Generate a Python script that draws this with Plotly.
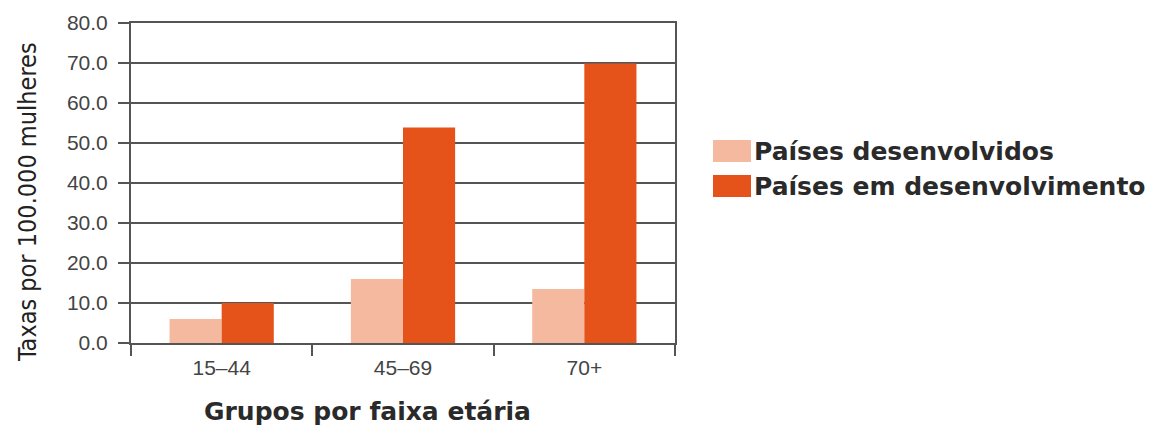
import plotly.graph_objects as go

categories = ["15–44", "45–69", "70+"]
desenvolvidos = [6.0, 16.0, 13.5]
em_desenvolvimento = [10.0, 53.9, 69.9]
series_names = ["Países desenvolvidos", "Países em desenvolvimento"]
series_colors = ["#F4B99E", "#E5531A"]
y_ticks = [0, 10, 20, 30, 40, 50, 60, 70, 80]
y_tick_labels = [f"{v:.1f}" for v in y_ticks]
x_title = "Grupos por faixa etária"
y_title = "Taxas por 100.000 mulheres"

W, H = 1155, 427
ML, MR, MT, MB = 131, 480, 23, 84
PW, PH = W - ML - MR, H - MT - MB


def px_x(p):
    return (p - ML) / PW


def px_y(p):
    return (H - MB - p) / PH


fig = go.Figure()
for name, vals, col in zip(series_names, [desenvolvidos, em_desenvolvimento], series_colors):
    fig.add_trace(go.Bar(x=categories, y=vals, name=name, showlegend=False,
                         marker=dict(color=col, line=dict(width=0))))

axis_col = "#555555"
tick_font = dict(family="Liberation Sans, Arial, sans-serif", size=21, color="#444444")
bold_font = dict(family="DejaVu Sans, sans-serif", size=25, color="#2a2a2a", weight="bold")

shapes = []
annotations = []
# legend (drawn as decoration)
sw_tops = [140, 175]
for i, (name, col) in enumerate(zip(series_names, series_colors)):
    top = sw_tops[i]
    shapes.append(dict(type="rect", xref="paper", yref="paper",
                       x0=px_x(713), x1=px_x(751), y0=px_y(top + 22), y1=px_y(top),
                       fillcolor=col, line=dict(width=0)))
    annotations.append(dict(text=name, xref="paper", yref="paper", showarrow=False,
                            x=px_x(752), y=px_y(top + 11), xanchor="left", yanchor="middle",
                            font=bold_font))
annotations.append(dict(text=x_title, xref="paper", yref="paper", showarrow=False,
                        x=px_x(367), y=px_y(411), xanchor="center", yanchor="middle",
                        font=bold_font))
annotations.append(dict(text=y_title, xref="paper", yref="paper", showarrow=False,
                        x=px_x(27), y=px_y(202), xanchor="center", yanchor="middle",
                        textangle=-90,
                        font=dict(family="Liberation Sans Narrow, DejaVu Sans Condensed, Roboto Condensed, Liberation Sans, sans-serif",
                                  size=25, color="#222222")))

fig.update_layout(
    width=W, height=H,
    margin=dict(l=ML, r=MR, t=MT, b=MB),
    paper_bgcolor="white", plot_bgcolor="white",
    barmode="group", bargap=0.425, bargroupgap=0,
    showlegend=False,
    shapes=shapes, annotations=annotations,
    xaxis=dict(
        type="category", tickson="boundaries", ticks="outside", ticklen=11,
        tickwidth=2, tickcolor=axis_col, showline=True, linecolor=axis_col,
        linewidth=2, mirror=True, showgrid=False,
        tickfont=tick_font, ticklabelstandoff=5,
    ),
    yaxis=dict(
        range=[0, 80], tickvals=y_ticks, ticktext=y_tick_labels,
        ticks="outside", ticklen=11, tickwidth=2, tickcolor=axis_col,
        showline=True, linecolor=axis_col, linewidth=2, mirror=True,
        showgrid=True, gridcolor=axis_col, gridwidth=2, zeroline=False,
        tickfont=tick_font, ticklabelstandoff=6,
    ),
)

fig.write_html("out.html")
